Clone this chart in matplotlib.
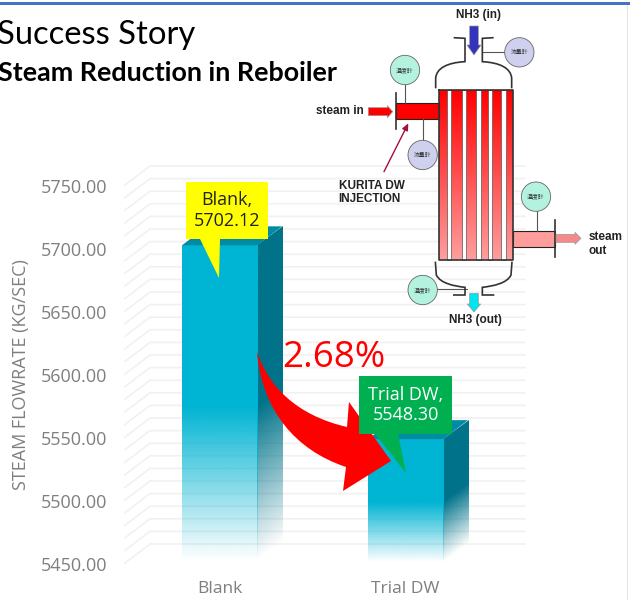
import numpy as np
import matplotlib
matplotlib.use("Agg")
import matplotlib.pyplot as plt
from matplotlib.patches import Polygon, Rectangle, Circle, PathPatch
from matplotlib.path import Path
from matplotlib.transforms import ScaledTranslation, Affine2D

categories = ["Blank", "Trial DW"]
flowrate = [5702.12, 5548.30]
y_ticks = [5450, 5500, 5550, 5600, 5650, 5700, 5750]
minor_grid = list(range(5450, 5760, 10))
callouts = ["Blank,\n5702.12", "Trial DW,\n5548.30"]
change_label = "2.68%"

W, H = 630, 600
FONT = "Open Sans"
fig = plt.figure(figsize=(W / 100, H / 100), dpi=100, facecolor="white")


def px_axes(x0, y0, x1, y1, **kw):
    return fig.add_axes([x0 / W, 1 - y1 / H, (x1 - x0) / W, (y1 - y0) / H], **kw)


# ---------- chart ----------
ax = px_axes(125, 185, 500, 563)
ax.set_facecolor("none")
for s in ax.spines.values():
    s.set_visible(False)
DX, DY = 25 / 186, 19 / 1.26
BOTTOM = y_ticks[0]
xl = (-0.508, 1.508)

for v in minor_grid:
    ax.plot([xl[0], xl[0] + DX, xl[1] + DX], [v, v + DY, v + DY],
            color="#f1f1f1", lw=1.2, clip_on=False, zorder=1)


def fade(color, n=64):
    """opaque over the upper half of a bar, fading out over the lower half"""
    a = np.ones(n)
    h = n // 2
    a[h:] = np.linspace(1, 0, n - h)
    arr = np.zeros((n, 1, 4))
    arr[..., :3] = matplotlib.colors.to_rgb(color)
    arr[:, 0, 3] = a
    return arr


BW = 75 / 186
for i, v in enumerate(flowrate):
    x0, x1 = i - BW / 2, i + BW / 2
    slope = DY / DX
    skew = Affine2D.from_values(1, slope, 0, 1, 0, -slope * x1)
    side = ax.imshow(fade("#00738a"), extent=(x1, x1 + DX, BOTTOM, v), aspect="auto",
                     zorder=3, clip_on=False, interpolation="bilinear",
                     interpolation_stage="rgba", transform=skew + ax.transData)
    ax.imshow(fade("#00b4d3"), extent=(x0, x1, BOTTOM, v), aspect="auto", zorder=3.1,
              clip_on=False, interpolation="bilinear", interpolation_stage="rgba")
    ax.add_patch(Polygon([(x0, v), (x0 + DX, v + DY), (x1 + DX, v + DY), (x1, v)],
                         facecolor="#008ba3", edgecolor="none", zorder=3.2, clip_on=False))

ax.set_xlim(*xl)
ax.set_ylim(y_ticks[0], y_ticks[-1])
ax.set_xticks(range(len(categories)))
ax.set_xticklabels(categories, fontsize=12.5, color="#7f7f7f", family=FONT)
ax.set_yticks(y_ticks)
ax.set_yticklabels([f"{t:.2f}" for t in y_ticks], fontsize=13, color="#7f7f7f", family=FONT)
ax.tick_params(length=0, axis="y", pad=13)
ax.tick_params(length=0, axis="x", pad=13)
off = ScaledTranslation(0, -0.5 / 72, fig.dpi_scale_trans)
for lab in ax.get_yticklabels():
    lab.set_transform(lab.get_transform() + off)
fig.text(21 / W, 1 - 375 / H, "STEAM FLOWRATE (KG/SEC)", rotation=90, ha="center", va="center",
         fontsize=13, color="#7f7f7f", family=FONT)

# ---------- pixel overlay: titles, arrow, callouts ----------
ov = px_axes(0, 0, W, H)
ov.set_xlim(0, W)
ov.set_ylim(H, 0)
ov.axis("off")
ov.patch.set_visible(False)

ov.add_patch(Rectangle((0, 2), W, 3, color="#4472c4", lw=0))
ov.add_patch(Rectangle((627, 5), 1, 595, color="#e4e4e4", lw=0))
ov.text(-3, 35, "Success Story", fontsize=23.6, family="Lato", va="center", ha="left", color="black")
ov.text(-2, 73, "Steam Reduction in Reboiler", fontsize=19.4, family="Lato", weight="bold",
        va="center", ha="left", color="black")

codes = [Path.MOVETO, Path.CURVE4, Path.CURVE4, Path.CURVE4, Path.LINETO, Path.LINETO, Path.LINETO,
         Path.LINETO, Path.CURVE4, Path.CURVE4, Path.CURVE4, Path.CLOSEPOLY]
verts = [(257, 352), (268, 385), (295, 415), (347, 427), (349, 402), (391, 461), (343, 491),
         (346, 467), (295, 450), (262, 410), (257, 352), (257, 352)]
ov.add_patch(PathPatch(Path(verts, codes), facecolor="#ff0000", edgecolor="none", zorder=4))
ov.text(334, 358, change_label, fontsize=26.5, color="#ff0000", family=FONT, ha="center", va="center", zorder=5)

ov.add_patch(Polygon([(186, 182), (268, 182), (268, 239), (220, 239), (219, 278), (200, 239), (186, 239)],
                     facecolor="#ffff00", edgecolor="none", zorder=6))
ov.text(227, 210.5, callouts[0], fontsize=13, family=FONT, color="#222222", ha="center", va="center",
        linespacing=1.2, zorder=7)
ov.add_patch(Polygon([(359, 376), (452, 376), (452, 434), (398, 434), (406, 473), (375, 434), (359, 434)],
                     facecolor="#00b050", edgecolor="none", zorder=6))
ov.text(405.5, 405, callouts[1], fontsize=13, family=FONT, color="white", ha="center", va="center",
        linespacing=1.2, zorder=7)

# ---------- reboiler diagram (units: 3x crop of the 310..630 / 0..330 region) ----------
d = px_axes(310, 0, 630, 330)
d.set_xlim(0, 960)
d.set_ylim(990, 0)
d.axis("off")
d.patch.set_visible(False)

grad = np.zeros((100, 1, 3))
top, bot = np.array([1, 0, 0]), np.array([1, 0.62, 0.62])
grad[:, 0, :] = top + (bot - top) * np.linspace(0, 1, 100)[:, None]
d.imshow(grad, extent=(388, 610, 780, 270), aspect="auto", zorder=1)
d.set_xlim(0, 960)
d.set_ylim(990, 0)
for x0, x1 in [(410, 423), (455, 469), (498, 512), (533, 547), (573, 587)]:
    d.add_patch(Rectangle((x0, 270), x1 - x0, 510, facecolor="white", edgecolor="#555555", lw=0.5, zorder=2))
LW = 1.2
d.plot([388, 610, 610, 388, 388], [270, 270, 780, 780, 270], color="#333333", lw=LW, zorder=3)
d.add_patch(Rectangle((258, 310), 130, 46, facecolor="#ff0000", edgecolor="#222222", lw=0.8, zorder=2))
d.add_patch(Rectangle((608, 692), 127, 48, facecolor="#ff9c9c", edgecolor="#222222", lw=0.8, zorder=2))
d.plot([258, 258], [278, 388], color="#333333", lw=LW, zorder=3)
d.plot([735, 735], [660, 772], color="#333333", lw=LW, zorder=3)

cv = [Path.MOVETO, Path.LINETO, Path.CURVE4, Path.CURVE4, Path.CURVE4, Path.LINETO, Path.LINETO, Path.LINETO]
for sgn in (-1, 1):
    cx = 491
    dome = [(cx + sgn * 114, 265), (cx + sgn * 114, 235), (cx + sgn * 112, 205), (cx + sgn * 80, 188),
            (cx + sgn * 26, 185), (cx + sgn * 26, 115), (cx + sgn * 60, 113), (cx + sgn * 60, 113)]
    d.add_patch(PathPatch(Path(dome, cv), fill=False, edgecolor="#333333", lw=LW, zorder=3))
    low = [(cx + sgn * 115, 785), (cx + sgn * 112, 825), (cx + sgn * 100, 850), (cx + sgn * 60, 858),
           (cx + sgn * 26, 862), (cx + sgn * 26, 885), (cx + sgn * 62, 885), (cx + sgn * 62, 885)]
    d.add_patch(PathPatch(Path(low, cv), fill=False, edgecolor="#333333", lw=LW, zorder=3))


def block_arrow(x0, y0, x1, y1, color, w, hw, hl, edge="#999999"):
    v = np.array([x1 - x0, y1 - y0], float)
    L = np.hypot(*v)
    u = v / L
    n = np.array([-u[1], u[0]])
    a = np.array([x0, y0], float)
    b = np.array([x1, y1], float)
    neck = b - u * hl
    pts = [a + n * w / 2, neck + n * w / 2, neck + n * hw / 2, b, neck - n * hw / 2, neck - n * w / 2, a - n * w / 2]
    d.add_patch(Polygon(pts, facecolor=color, edgecolor=edge, lw=0.5, zorder=5))


block_arrow(175, 335, 248, 335, "#ff0000", 24, 36, 16)
block_arrow(492, 78, 492, 165, "#3333bb", 26, 42, 30)
block_arrow(492, 880, 492, 936, "#00e5ee", 26, 40, 24)
block_arrow(738, 715, 813, 715, "#f58a8a", 24, 36, 18)
d.annotate("", xy=(295, 370), xytext=(222, 515), zorder=5,
           arrowprops=dict(arrowstyle="-|>,head_width=0.18,head_length=0.4", color="#a01040", lw=1, shrinkA=0, shrinkB=0))

TEAL, LAV = "#b4f2e0", "#ced0ee"
CJK = ["Noto Sans CJK JP", "DejaVu Sans"]
gauges = [(285, 210, TEAL, "温度計", (285, 255, 285, 310)),
          (628, 157, LAV, "流量計", (518, 157, 585, 157)),
          (338, 465, LAV, "流量計", (338, 356, 338, 422)),
          (678, 590, TEAL, "温度計", (680, 633, 680, 692)),
          (338, 870, TEAL, "温度計", (382, 868, 470, 868))]
for cx, cy, col, txt, (a, b, e, f) in gauges:
    d.plot([a, e], [b, f], color="#555555", lw=0.8, zorder=2)
    d.add_patch(Circle((cx, cy), 44, facecolor=col, edgecolor="#666666", lw=0.6, zorder=4))
    d.text(cx, cy, txt, fontsize=4.2, family=CJK, color="#333333", ha="center", va="center", zorder=5)

LAB = dict(family="Liberation Sans", weight="bold", fontsize=8.5, color="#222222", zorder=6)
d.text(506, 46, "NH3 (in)", ha="center", va="center", **LAB)
d.text(89, 332, "steam in", ha="center", va="center", **LAB)
d.text(86, 578, "KURITA DW\nINJECTION", ha="left", va="center", linespacing=1.15, **LAB)
d.text(835, 732, "steam\nout", ha="left", va="center", linespacing=1.15, **LAB)
d.text(497, 960, "NH3 (out)", ha="center", va="center", **LAB)

fig.savefig("out.png", dpi=100)
